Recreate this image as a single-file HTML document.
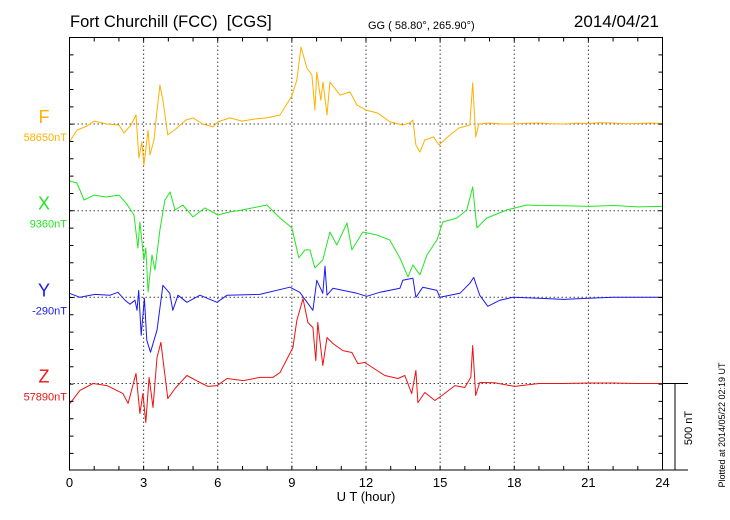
<!DOCTYPE html>
<html><head><meta charset="utf-8"><style>
html,body{margin:0;padding:0;background:#fff;}
svg{display:block;font-family:"Liberation Sans",sans-serif;}
</style></head><body>
<svg id="chart" width="730" height="520" viewBox="0 0 730 520">
<text x="70" y="27" font-size="16.5" fill="#000">Fort Churchill (FCC)&#160; [CGS]</text>
<text x="368" y="29" font-size="11" fill="#000">GG ( 58.80°, 265.90°)</text>
<text x="659" y="27" font-size="17" fill="#000" text-anchor="end">2014/04/21</text>
<g id="grid"></g>
<g id="series"></g>
<g id="axes"></g>
<text x="366" y="501" font-size="13" text-anchor="middle">U T (hour)</text>
<text transform="translate(692,428) rotate(-90)" font-size="11" text-anchor="middle">500 nT</text>
<text transform="translate(725,425) rotate(-90)" font-size="9" text-anchor="middle">Plotted at 2014/05/22 02:19 UT</text>
</svg>
<script>
const hourTicks=[0,3,6,9,12,15,18,21,24];
const seriesNames=["F","X","Y","Z"];
const seriesBaseLabels=["58650nT","9360nT","-290nT","57890nT"];
const seriesColors=["#ffb000","#22e622","#1a1aee","#ee1111"];
const fT=[0,0.3,0.7,1.0,1.5,2.0,2.2,2.49,2.69,2.81,2.93,3.01,3.18,3.26,3.42,3.5,3.66,3.78,3.98,4.3,4.71,5.0,5.4,5.81,6.0,6.49,6.98,7.5,7.99,8.52,9.0,9.2,9.37,9.61,9.81,9.93,10.01,10.17,10.26,10.42,10.54,10.95,11.35,11.63,11.99,12.48,12.97,13.49,13.77,13.9,14.02,14.18,14.38,14.74,14.95,15.35,15.76,16.2,16.32,16.44,16.56,17,17.5,18,18.5,19,19.5,20,20.5,21,21.5,22,22.5,23,23.5,24];
const fV=[-104,-35,-12,17,0,-6,-52,-6,52,-196,-104,-237,-35,-179,-92,23,225,138,-63,-29,23,35,0,-17,12,35,17,29,35,52,162,254,444,323,283,81,300,138,242,52,242,167,185,110,81,63,12,-6,6,23,-121,-162,-92,-75,-121,-69,-23,-6,237,-75,0,6,0,0,4,6,2,0,5,3,8,6,2,3,6,3];
const xT=[0.02,0.3,0.59,0.99,1.48,2.0,2.29,2.61,2.77,2.85,3.01,3.09,3.18,3.34,3.46,3.66,3.86,4.07,4.27,4.59,5.0,5.48,6.0,6.49,6.98,7.99,8.52,9.0,9.28,9.53,9.73,9.93,10.25,10.54,10.82,11.23,11.43,11.87,12.44,12.96,13.37,13.7,13.9,14.18,14.47,14.87,15.11,15.68,16.08,16.32,16.49,16.89,17.7,18.5,19,20,21,22,23,24];
const xV=[171,160,62,90,79,90,44,-25,-215,-65,-285,-215,-469,-256,-342,-111,62,108,4,33,-36,16,-25,-7,4,33,-42,-99,-272,-226,-226,-330,-284,-123,-198,-71,-226,-123,-140,-169,-273,-382,-313,-370,-255,-169,-65,-42,4,137,-99,-42,4,33,30,28,25,30,22,25];
const yT=[0,0.42,1.03,1.64,1.96,2.25,2.45,2.65,2.73,2.8,2.9,3.03,3.13,3.28,3.54,3.78,4.06,4.18,4.39,4.75,5.28,5.97,6.38,7.7,8.92,9.32,9.85,10.01,10.25,10.34,10.42,10.66,11.63,12.03,12.56,13.37,13.49,13.9,14.02,14.3,14.87,14.99,15.8,16.2,16.36,16.6,16.93,17.42,17.95,19,20,21,22,23,24];
const yV=[23,0,17,12,29,-17,-40,-17,-75,40,-219,-6,-248,-317,-190,69,23,-75,12,-29,12,-29,12,17,58,29,-75,98,23,179,12,52,23,6,29,52,98,110,0,58,40,0,23,81,115,12,-52,-17,0,-6,-12,-6,0,0,0];
const zT=[0.02,0.42,0.95,1.52,2.16,2.37,2.69,2.85,2.97,3.09,3.22,3.38,3.54,3.7,3.98,4.27,4.75,5.28,5.6,5.97,6.38,7.03,7.71,8.23,8.52,9.04,9.2,9.45,9.65,9.85,9.97,10.05,10.25,10.42,10.66,11.06,11.43,11.67,11.95,12.76,13.29,13.57,13.85,14.02,14.1,14.38,14.79,15.07,15.6,16.0,16.24,16.32,16.44,16.6,17.2,18.02,19,20,21,22,23,24];
const zV=[-115,-40,0,-12,-58,-115,58,-173,-58,-225,35,-138,150,237,-87,-29,46,6,-17,-12,29,17,35,35,63,208,363,490,352,323,133,352,104,265,231,190,179,115,121,46,29,46,-58,75,-110,-52,-98,-69,-12,-23,35,219,-69,6,4,-17,0,0,3,3,0,0];
const seriesT=[fT,xT,yT,zT];
const seriesV=[fV,xV,yV,zV];

const NS="http://www.w3.org/2000/svg";
const L=69.5,R=662.5,T=37.5,B=470;
const baselines=[124,210.7,297.3,383.5];
const pxPerNT=17.33/100;
function xs(h){return L+(R-L)*h/24;}
function ys(i,v){return baselines[i]-v*pxPerNT;}
function mk(tag,attrs,parent){const e=document.createElementNS(NS,tag);for(const k in attrs)e.setAttribute(k,attrs[k]);parent.appendChild(e);return e;}
const grid=document.getElementById('grid'),axes=document.getElementById('axes'),ser=document.getElementById('series');
hourTicks.forEach(h=>{
  if(h>0&&h<24){const g=mk('line',{x1:xs(h),x2:xs(h),y1:T,y2:B,stroke:'#444','stroke-width':1,'stroke-dasharray':'1.5,2.5'},grid);
  
  }
  const t=mk('text',{x:xs(h),y:487,'font-size':13,'text-anchor':'middle'},axes);t.textContent=h;
  
  
});
baselines.forEach((b,i)=>{
  const g=mk('line',{x1:L,x2:R,y1:b,y2:b,stroke:'#444','stroke-width':1,'stroke-dasharray':'1.5,2.5'},grid);
  
  
  const n=mk('text',{x:44,y:b-1,'font-size':18,'text-anchor':'middle',fill:seriesColors[i]},axes);n.textContent=seriesNames[i];
  
  
  const v=mk('text',{x:67,y:b+17,'font-size':11,'text-anchor':'end',fill:seriesColors[i]},axes);v.textContent=seriesBaseLabels[i];
  
  
});
const fr=mk('rect',{x:L,y:T,width:R-L,height:B-T,fill:'none',stroke:'#000','stroke-width':1},axes);


let d='';
for(let h=1;h<24;h++){d+=`M${xs(h)},${T}v4M${xs(h)},${B}v-4`;}
for(let y=T+17.33;y<B-1;y+=17.33){d+=`M${L},${y}h4M${R},${y}h-4`;}
const tk=mk('path',{d:d,stroke:'#000','stroke-width':1,fill:'none'},axes);


const sb=mk('path',{d:`M${R},${baselines[3]}H688M675,${baselines[3]}V${B}M${R},${B}H688`,stroke:'#000','stroke-width':1,fill:'none'},axes);


seriesT.forEach((ts,i)=>{
  const pts=ts.map((t,k)=>xs(t).toFixed(1)+','+ys(i,seriesV[i][k]).toFixed(1)).join(' ');
  const p=mk('polyline',{points:pts,fill:'none',stroke:seriesColors[i],'stroke-width':1,'stroke-linejoin':'round'},ser);
  
  
});
</script>
</body></html>
